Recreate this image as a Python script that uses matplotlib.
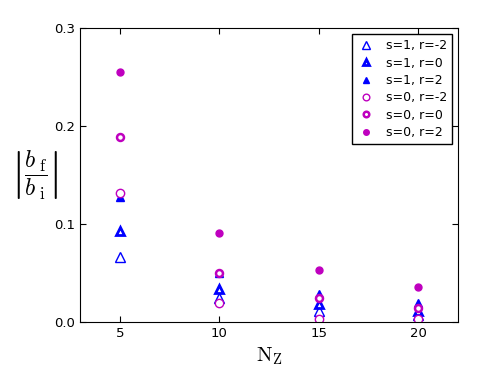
import matplotlib
matplotlib.use('Agg')
import matplotlib.pyplot as plt

plt.rcParams['mathtext.fontset'] = 'cm'
plt.rcParams['xtick.direction'] = 'in'
plt.rcParams['ytick.direction'] = 'in'
plt.rcParams['xtick.top'] = True
plt.rcParams['ytick.right'] = True

nz = [5, 10, 15, 20]

s1_rm2 = [0.066, 0.024, 0.011, 0.007]
s1_r0 = [0.093, 0.034, 0.018, 0.011]
s1_r2 = [0.128, 0.050, 0.029, 0.019]
s0_rm2 = [0.132, 0.019, 0.003, 0.003]
s0_r0 = [0.189, 0.050, 0.024, 0.014]
s0_r2 = [0.255, 0.091, 0.053, 0.036]

fig = plt.figure(figsize=(4.91, 3.70), dpi=100)
ax = fig.add_axes([0.163, 0.130, 0.770, 0.794])

ax.plot(nz, s1_rm2, '^', color='b', mfc='w', mec='b', mew=1.0, ms=6.5, label='s=1, r=-2')
ax.plot(nz, s1_r0, '^', color='b', mfc='w', mec='b', mew=2.0, ms=6, label='s=1, r=0')
ax.plot(nz, s1_r2, '^', color='b', mfc='b', mec='b', ms=6, label='s=1, r=2')
ax.plot(nz, s0_rm2, 'o', color='m', mfc='w', mec='m', mew=1.0, ms=6, label='s=0, r=-2')
ax.plot(nz, s0_r0, 'o', color='m', mfc='w', mec='m', mew=1.8, ms=5, label='s=0, r=0')
ax.plot(nz, s0_r2, 'o', color='m', mfc='m', mec='m', ms=5, label='s=0, r=2')

ax.set_xlim(3, 22)
ax.set_ylim(0, 0.3)
ax.set_xticks(nz)
ax.set_yticks([0.0, 0.1, 0.2, 0.3])
ax.tick_params(labelsize=9.5, length=4)

ax.set_xlabel(r'$\rm N_Z$', fontsize=15, labelpad=4)
ax.set_ylabel(r'$\left|\dfrac{b_{\ \rm f}}{b_{\ \rm i}}\right|$', fontsize=17,
              rotation=0, labelpad=14, va='center')

leg = ax.legend(loc='upper right', fontsize=9, numpoints=1, fancybox=False, markerscale=0.8,
                borderaxespad=0.5, handlelength=1.5, handletextpad=0.8, labelspacing=0.35,
                borderpad=0.4)
leg.get_frame().set_edgecolor('black')
leg.get_frame().set_alpha(1)

fig.savefig('out.png', dpi=100)
